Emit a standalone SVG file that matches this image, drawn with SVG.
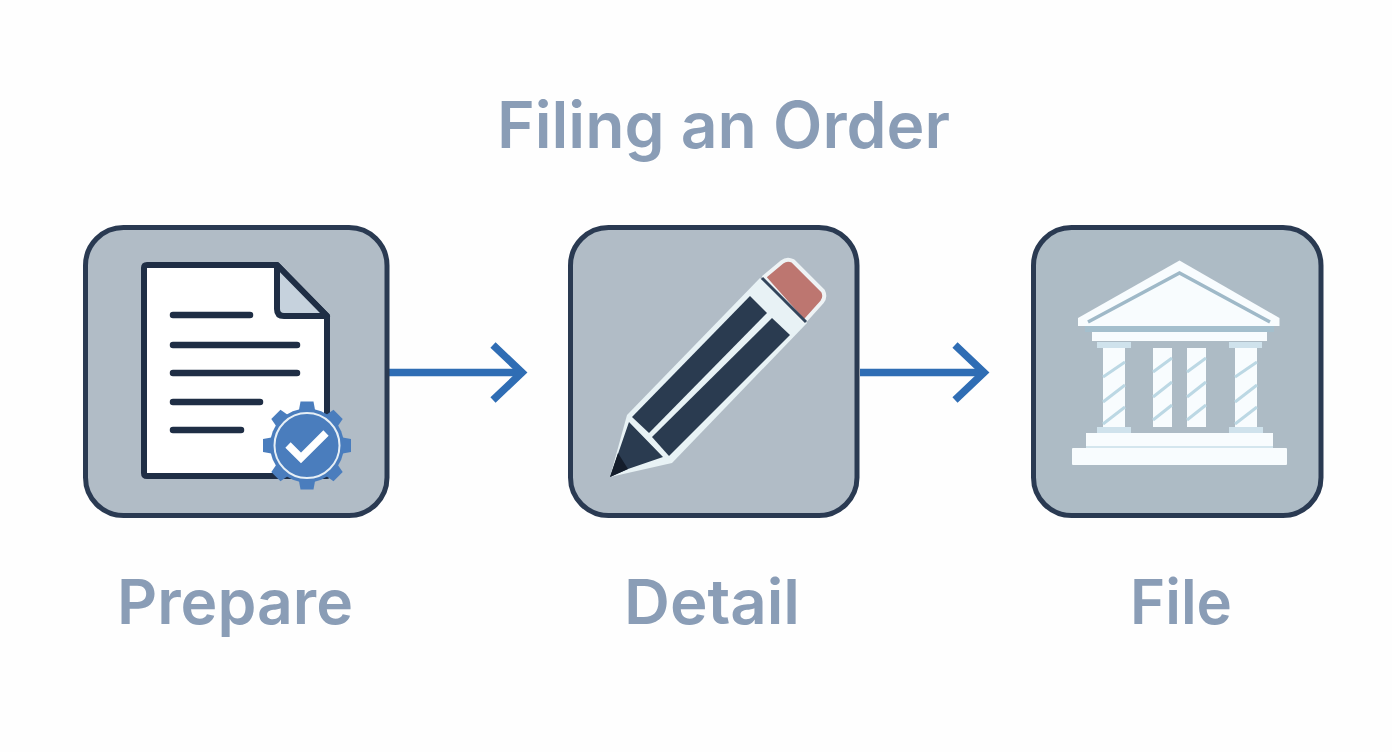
<svg xmlns="http://www.w3.org/2000/svg" width="1392" height="752" viewBox="0 0 1392 752">
<style>
.t{font-family:"Inter","Lato",sans-serif;font-weight:600;fill:#8a9db6;text-anchor:middle}
.box{fill:#b1bcc6;stroke:#2a3a52;stroke-width:5}
.ln{stroke:#1f2e45;stroke-width:6.500;stroke-linecap:round;fill:none}
.ar{fill:none;stroke:#2f6db4;stroke-width:7.500}
.w{fill:#f8fcfe}
.s{stroke:#bcd8e4;stroke-width:3;fill:none}
</style>
<defs><path id="tooth" d="M-9 -30L-6.500 -44H6.500L9 -30Z"/></defs>
<rect width="1392" height="752" fill="#fefefe"/>
<text class="t" x="723.500" y="147.500" font-size="64" textLength="453" lengthAdjust="spacingAndGlyphs">Filing an Order</text>
<g id="connectors">
<path class="ar" d="M389 372.500H520"/>
<path class="ar" d="M860 372.500H982"/>
<path class="ar" d="M493 345L522 372.500L493 400"/>
<path class="ar" d="M955 345L984 372.500L955 400"/>
</g>
<g id="prepare">
<rect class="box" x="85.500" y="227.500" width="301.500" height="288" rx="38"/>
<path d="M147 265H277L327 316V476H147Q144 476 144 473V268Q144 265 147 265Z" fill="#fff" stroke="#1f2e45" stroke-width="6" stroke-linejoin="round"/>
<path d="M277 265L327 316H284Q277 316 277 309Z" fill="#c6d2dd" stroke="#1f2e45" stroke-width="6" stroke-linejoin="round"/>
<path class="ln" d="M173 315H250M173 345H297M173 373H297M173 402H260M173 430H241"/>
<g transform="translate(307 445.500)" fill="#4a7dbd">
<circle r="37"/>
<use href="#tooth"/><use href="#tooth" transform="rotate(45)"/><use href="#tooth" transform="rotate(90)"/><use href="#tooth" transform="rotate(135)"/><use href="#tooth" transform="rotate(180)"/><use href="#tooth" transform="rotate(225)"/><use href="#tooth" transform="rotate(270)"/><use href="#tooth" transform="rotate(315)"/>
<circle r="32.500" fill="#4a7dbd" stroke="#e6eff6" stroke-width="2"/>
</g>
<path d="M288 445L301 458L326 433" fill="none" stroke="#fff" stroke-width="7.500"/>
<text class="t" x="235" y="624" font-size="62" textLength="236" lengthAdjust="spacingAndGlyphs">Prepare</text>
</g>
<g id="detail">
<rect class="box" x="570.500" y="227.500" width="286.500" height="288" rx="38"/>
<path d="M627 415L760 278L807 323L672 463L610 477Z" fill="#e8f2f5"/>
<path d="M764 277L782 262Q787 258 793 261L823 291Q826 297 822 302L804 322Z" fill="#bd7670" stroke="#eef3f5" stroke-width="4" stroke-linejoin="round"/>
<path d="M762 278L806 322" stroke="#33465c" stroke-width="3"/>
<path d="M750 296L767 313L649 433L632 417Z" fill="#2a3b50"/>
<path d="M772 318L790 335L669 456L652 437Z" fill="#2a3b50"/>
<path d="M629 422L663 457L628 469L610 477Z" fill="#2a3b50"/>
<path d="M610 477L618 453L628 469Z" fill="#141d2b"/>
<text class="t" x="712" y="624" font-size="62" textLength="176" lengthAdjust="spacingAndGlyphs">Detail</text>
</g>
<g id="file">
<rect class="box" x="1033.500" y="227.500" width="287.500" height="288" rx="38" style="fill:#adbbc5"/>
<path class="w" d="M1179.500 260.500L1279.500 318V326H1078V318Z"/>
<path d="M1088 322L1179.500 273L1270 322" fill="none" stroke="#9fb9c8" stroke-width="3.500"/>
<rect x="1085" y="326" width="189" height="6" fill="#a4bfcd"/>
<rect class="w" x="1092" y="332" width="175" height="9"/>
<g id="columns">
<rect x="1097" y="342" width="34" height="6" fill="#cfe2ec"/>
<rect x="1229" y="342" width="33" height="6" fill="#cfe2ec"/>
<rect class="w" x="1103" y="348" width="22" height="79"/>
<rect class="w" x="1153" y="348" width="19" height="79"/>
<rect class="w" x="1187" y="348" width="19" height="79"/>
<rect class="w" x="1235" y="348" width="22" height="79"/>
<path class="s" d="M1103 377L1125 362M1103 402L1125 385M1103 424L1125 407M1153 372L1172 358M1153 397L1172 382M1153 420L1172 405M1187 372L1206 358M1187 397L1206 382M1187 420L1206 405M1235 377L1257 362M1235 402L1257 385M1235 424L1257 407"/>
<rect x="1097" y="427" width="34" height="6" fill="#cfe2ec"/>
<rect x="1229" y="427" width="34" height="6" fill="#cfe2ec"/>
</g>
<rect class="w" x="1086" y="433" width="187" height="13"/>
<rect x="1086" y="446" width="187" height="2" fill="#d4e6ee"/>
<rect class="w" x="1072" y="448" width="215" height="17" rx="1"/>
<text class="t" x="1181" y="624" font-size="62" textLength="102" lengthAdjust="spacingAndGlyphs">File</text>
</g>
</svg>
